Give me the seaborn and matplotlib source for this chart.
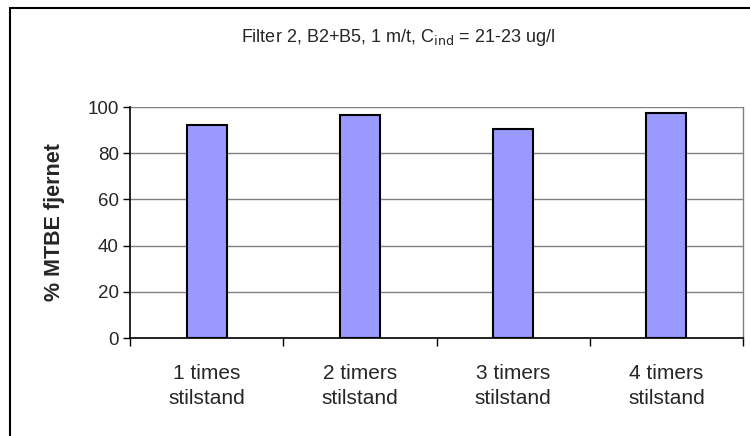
import matplotlib
matplotlib.use("Agg")
import matplotlib.pyplot as plt
from matplotlib.patches import Rectangle
from matplotlib.ticker import FixedLocator
import seaborn as sns
import pandas as pd

# Data
categories = ["1 times\nstilstand", "2 timers\nstilstand", "3 timers\nstilstand", "4 timers\nstilstand"]
removed_pct = [92.2, 96.7, 90.4, 97.4]
y_ticks = [0, 20, 40, 60, 80, 100]

df = pd.DataFrame({"kategori": categories, "fjernet": removed_pct})

sns.set_theme(style="white")
plt.rcParams["font.family"] = ["Liberation Sans", "DejaVu Sans"]

fig = plt.figure(figsize=(7.5, 4.36), dpi=100)
ax = fig.add_axes([130 / 750, 98 / 436, 613 / 750, 231 / 436])

sns.barplot(data=df, x="kategori", y="fjernet", ax=ax, color="#9999FF",
            width=0.26, edgecolor="black", linewidth=1.5, saturation=1)

ax.set_ylim(0, 100)
ax.set_xlim(-0.5, len(categories) - 0.5)
ax.set_yticks(y_ticks)
ax.set_yticklabels([str(v) for v in y_ticks], fontsize=13.5)
ax.yaxis.grid(True, color="#808080", linewidth=1)
ax.set_axisbelow(True)

# category labels centered, tick marks at category boundaries
ax.tick_params(axis="x", which="major", length=0, labelsize=15, pad=19)
ax.xaxis.set_minor_locator(FixedLocator([i - 0.5 for i in range(len(categories) + 1)]))
ax.tick_params(axis="x", which="minor", length=6, width=1, color="black", direction="out", bottom=True)
ax.tick_params(axis="y", length=5, width=1, color="black", direction="out", left=True, labelsize=13.5, pad=3)
for lbl in ax.get_xticklabels():
    lbl.set_linespacing(1.4)

for side in ["left", "bottom"]:
    ax.spines[side].set_color("black")
    ax.spines[side].set_linewidth(1.2)
ax.spines["top"].set_visible(False)
ax.spines["right"].set_color("#808080")
ax.spines["right"].set_linewidth(1)

ax.set_xlabel("")
ax.set_ylabel("% MTBE fjernet", fontsize=15.5, fontweight="bold", labelpad=16)

fig.text(398 / 750, 1 - 37 / 436, r"Filter 2, B2+B5, 1 m/t, C$_{\mathrm{ind}}$ = 21-23 ug/l",
         ha="center", va="center", fontsize=13)

# chart frame
fig.patches.append(Rectangle((9.5 / 750, -0.1), 1.2, 1 - 7.5 / 436 + 0.1,
                             transform=fig.transFigure, fill=False,
                             edgecolor="black", linewidth=1.5))

fig.savefig("out.png", dpi=100)
